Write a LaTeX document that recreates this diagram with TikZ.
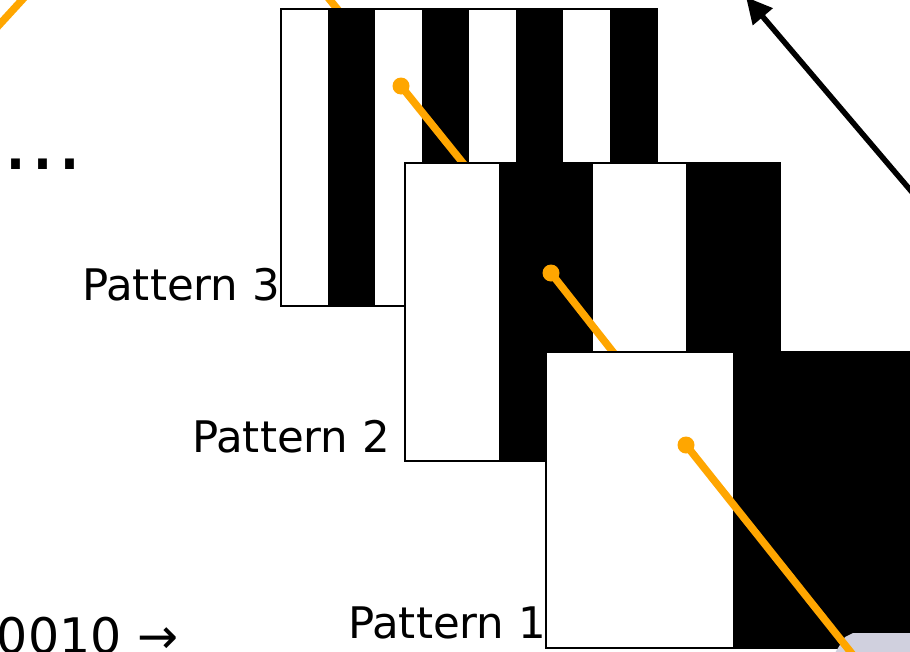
\documentclass[tikz,border=0pt]{standalone}
\usepackage{fontspec}
\setmainfont{DejaVu Sans}
\usetikzlibrary{arrows.meta}
\usetikzlibrary{positioning}

\definecolor{rayorange}{RGB}{255,166,0}
\definecolor{lenslilac}{RGB}{208,208,222}

\begin{document}
\begin{tikzpicture}[x=1pt,y=-1pt,
  every node/.style={inner sep=0pt,outer sep=0pt,font=\fontsize{43.5}{50}\selectfont},
  frame/.style={draw=black,fill=white,line width=2pt,anchor=north west},
  ray/.style={draw=rayorange,line width=7.5pt},
  spot/.style={circle,fill=rayorange,minimum size=17pt},
  lightray/.style={draw=black,line width=5.5pt,-{Triangle[length=26pt,width=25pt]}}]
  \clip (0,0) rectangle (910,651);

  % rays coming from further back
  \coordinate (a1) at (-22,48);
  \coordinate (a2) at (44,-24);
  \draw[ray] (a1)--(a2);
  \coordinate (b1) at (317,-16);
  \coordinate (b2) at (343,16);
  \draw[ray] (b1)--(b2);

  % pattern 3
  \node[frame,minimum width=376pt,minimum height=297pt] (pat3) at (281,9) {};
  \foreach \i in {1,3,5,7}
    \fill ([xshift=\i*47pt]pat3.north west) rectangle ([xshift=\i*47pt+47pt]pat3.south west);
  \node[spot] (spot3) at (401,86) {};
  \coordinate (end3) at (475,178);
  \draw[ray] (spot3.center)--(end3);

  % pattern 2
  \node[frame,minimum width=375pt,minimum height=298pt] (pat2) at (405,163) {};
  \foreach \i in {1,3}
    \fill ([xshift=\i*93.75pt]pat2.north west) rectangle ([xshift=\i*93.75pt+93.75pt]pat2.south west);
  \node[spot] (spot2) at (551,273) {};
  \coordinate (end2) at (624,366);
  \draw[ray] (spot2.center)--(end2);

  % pattern 1
  \node[frame,line width=1.5pt,minimum width=374pt,minimum height=296pt] (pat1) at (546,352) {};
  \fill ([xshift=187pt]pat1.north west) rectangle ([xshift=374pt]pat1.south west);
  \fill[lenslilac] (833,656)--(845,637)--(853,633)--(912,633)--(912,656)--cycle;
  \node[spot] (spot1) at (686,445) {};
  \coordinate (end1) at (880,689);
  \draw[ray] (spot1.center)--(end1);

  % camera ray
  \coordinate (cam) at (940,225);
  \coordinate (tip) at (746,-3);
  \draw[lightray] (cam)--(tip);

  \node[anchor=base west] (lab3) at (82,300) {Pattern 3};
  \node[anchor=base west] (lab2) at (192,452) {Pattern 2};
  \node[anchor=base west] (lab1) at (348,638) {Pattern 1};
  \node[anchor=base west,font=\fontsize{85}{90}\selectfont] (dots) at (2,169) {...};
  \node[anchor=base west,font=\fontsize{49}{55}\selectfont] (code) at (-3,653) {0010 →};
\end{tikzpicture}
\end{document}
